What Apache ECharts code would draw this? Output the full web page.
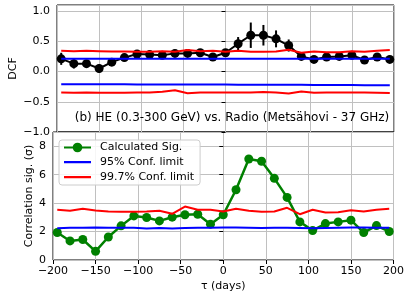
<!DOCTYPE html>
<html>
<head>
<meta charset="utf-8">
<script src="https://cdn.jsdelivr.net/npm/echarts@6/dist/echarts.min.js"></script>
<style>html,body{margin:0;padding:0;background:#fff;}#c{width:407px;height:300px;}</style>
</head>
<body>
<div id="c"></div>
<script>
const lags = [-195,-180,-165,-150,-135,-120,-105,-90,-75,-60,-45,-30,-15,0,15,30,45,60,75,90,105,120,135,150,165,180,195];
const dcf = [0.21,0.13,0.13,0.05,0.155,0.23,0.29,0.28,0.27,0.30,0.30,0.31,0.24,0.31,0.46,0.60,0.60,0.54,0.43,0.25,0.20,0.24,0.25,0.27,0.19,0.24,0.20];
const dcfErr = [0.10,0.08,0.06,0.07,0.06,0.06,0.05,0.05,0.05,0.05,0.05,0.05,0.05,0.05,0.11,0.21,0.17,0.14,0.10,0.05,0.05,0.05,0.05,0.05,0.05,0.05,0.05];
const dcfRedUp = [0.343,0.337,0.343,0.337,0.331,0.331,0.326,0.326,0.337,0.326,0.354,0.337,0.343,0.326,0.343,0.326,0.326,0.331,0.359,0.309,0.331,0.32,0.32,0.337,0.326,0.343,0.354];
const dcfRedLo = [-0.345,-0.35,-0.345,-0.35,-0.352,-0.35,-0.345,-0.345,-0.335,-0.31,-0.36,-0.345,-0.345,-0.345,-0.345,-0.345,-0.34,-0.345,-0.365,-0.33,-0.35,-0.345,-0.345,-0.345,-0.345,-0.35,-0.355];
const dcfBlueUp = [0.21,0.21,0.21,0.21,0.21,0.21,0.21,0.21,0.21,0.21,0.21,0.21,0.21,0.21,0.21,0.21,0.21,0.21,0.21,0.21,0.21,0.21,0.21,0.21,0.21,0.21,0.21];
const dcfBlueLo = [-0.21,-0.21,-0.21,-0.212,-0.212,-0.212,-0.213,-0.214,-0.214,-0.215,-0.215,-0.215,-0.216,-0.216,-0.217,-0.218,-0.218,-0.219,-0.22,-0.22,-0.221,-0.222,-0.223,-0.224,-0.225,-0.226,-0.226];
const sig = [1.93,1.34,1.44,0.61,1.62,2.40,3.10,2.99,2.75,3.01,3.18,3.22,2.52,3.18,4.94,7.10,6.94,5.74,4.40,2.68,2.07,2.56,2.68,2.80,1.93,2.42,2.00];
const sig95 = [2.24,2.27,2.26,2.29,2.27,2.26,2.27,2.22,2.25,2.22,2.25,2.27,2.26,2.29,2.29,2.27,2.25,2.26,2.26,2.25,2.23,2.25,2.27,2.28,2.28,2.27,2.27];
const sig997 = [3.53,3.46,3.60,3.48,3.41,3.39,3.39,3.41,3.46,3.25,3.76,3.53,3.53,3.41,3.60,3.46,3.39,3.41,3.67,3.22,3.53,3.34,3.36,3.50,3.41,3.53,3.60];
const xTicks = [-200,200,50];
const legendNames = ['Calculated Sig.','95% Conf. limit','99.7% Conf. limit'];
const annotation = '(b) HE (0.3-300 GeV) vs. Radio (Metsähovi - 37 GHz)';

const F = 'DejaVu Sans';
const pair = a => lags.map((x,i)=>[x,a[i]]);
const minus = s => String(s).replace('-', '\u2212');
const chart = echarts.init(document.getElementById('c'));
const grid = {left:53, right:13, show:true, borderColor:'#000', borderWidth:1, backgroundColor:'transparent'};
const xBase = (idx, labels) => ({
  type:'value', gridIndex:idx, min:xTicks[0], max:xTicks[1], interval:xTicks[2],
  axisLine:{show:false},
  axisTick:{show:labels, length:4, lineStyle:{color:'#000'}},
  axisLabel:{show:labels, color:'#000', fontFamily:F, fontSize:11, margin:6, formatter:v=>minus(v)},
  splitLine:{show:true, lineStyle:{color:'#c0c0c0', width:1}},
  name: labels ? 'τ (days)' : '', nameLocation:'middle', nameGap:21, nameMoveOverlap:false,
  nameTextStyle:{color:'#000', fontFamily:F, fontSize:11}
});
const line = (data, color, xi, name, z) => ({
  type:'line', name:name, xAxisIndex:xi, yAxisIndex:xi, data:pair(data),
  showSymbol:false, symbol:'none', lineStyle:{color:color, width:2}, itemStyle:{color:color},
  z:z, silent:true, animation:false
});
const lineIcon = 'path://M0,0h0.01v0.01h-0.01zM0,5h27v2.2h-27zM0,12h0.01v0.01h-0.01z';
chart.setOption({
  animation:false,
  grid:[Object.assign({top:5, height:127}, grid), Object.assign({top:132, height:128}, grid)],
  xAxis:[xBase(0,false), xBase(1,true)],
  yAxis:[
    {type:'value', gridIndex:0, min:-1, max:1.1, interval:0.5,
     axisLine:{show:false}, axisTick:{show:true, length:4, lineStyle:{color:'#000'}},
     axisLabel:{color:'#000', fontFamily:F, fontSize:11, margin:7, showMaxLabel:false,
       formatter:v=>minus(v.toFixed(1))},
     splitLine:{show:true, lineStyle:{color:'#c0c0c0', width:1}},
     name:'DCF', nameLocation:'middle', nameGap:38, nameMoveOverlap:false,
     nameTextStyle:{color:'#000', fontFamily:F, fontSize:11}},
    {type:'value', gridIndex:1, min:0, max:9, interval:2,
     axisLine:{show:false}, axisTick:{show:true, length:4, lineStyle:{color:'#000'}},
     axisLabel:{color:'#000', fontFamily:F, fontSize:11, margin:7, showMaxLabel:false},
     splitLine:{show:true, lineStyle:{color:'#c0c0c0', width:1}},
     name:'Correlation sig. (σ)', nameLocation:'middle', nameGap:18, nameMoveOverlap:false,
     nameTextStyle:{color:'#000', fontFamily:F, fontSize:11}}
  ],
  legend:{
    left:59, top:140, orient:'vertical', itemWidth:27, itemHeight:12, itemGap:3,
    padding:[2,6,2,4], backgroundColor:'rgba(255,255,255,0.85)', borderColor:'#cccccc', borderWidth:1, borderRadius:3,
    textStyle:{color:'#000', fontFamily:F, fontSize:11, padding:[0,0,0,4]},
    data:[legendNames[0], {name:legendNames[1], icon:lineIcon}, {name:legendNames[2], icon:lineIcon}]
  },
  graphic:[{type:'text', x:232, y:118, style:{text:annotation, font:'12px "DejaVu Sans"', fill:'#000', textAlign:'center', textVerticalAlign:'middle'}, z:20}],
  series:[
    {type:'custom', xAxisIndex:0, yAxisIndex:0, data:lags.map((x,i)=>[x,dcf[i]-dcfErr[i],dcf[i]+dcfErr[i]]), z:3, silent:true,
     renderItem:(params, api)=>{
       const lo = api.coord([api.value(0), api.value(1)]);
       const hi = api.coord([api.value(0), api.value(2)]);
       return {type:'line', shape:{x1:lo[0], y1:lo[1], x2:hi[0], y2:hi[1]}, style:{stroke:'#000', lineWidth:2}};
     }},
    {type:'line', xAxisIndex:0, yAxisIndex:0, data:pair(dcf), symbol:'circle', symbolSize:9, showSymbol:true,
     lineStyle:{color:'#000', width:2}, itemStyle:{color:'#000'}, z:4, silent:true},
    line(dcfRedUp, '#ff0000', 0, null, 5),
    line(dcfRedLo, '#ff0000', 0, null, 5),
    line(dcfBlueUp, '#0000ff', 0, null, 5),
    line(dcfBlueLo, '#0000ff', 0, null, 5),
    {type:'line', name:legendNames[0], xAxisIndex:1, yAxisIndex:1, data:pair(sig), symbol:'circle', symbolSize:9, showSymbol:true,
     lineStyle:{color:'#008000', width:2.5}, itemStyle:{color:'#008000'}, z:3, silent:true},
    line(sig95, '#0000ff', 1, legendNames[1], 5),
    line(sig997, '#ff0000', 1, legendNames[2], 5)
  ]
});
</script>
</body>
</html>
